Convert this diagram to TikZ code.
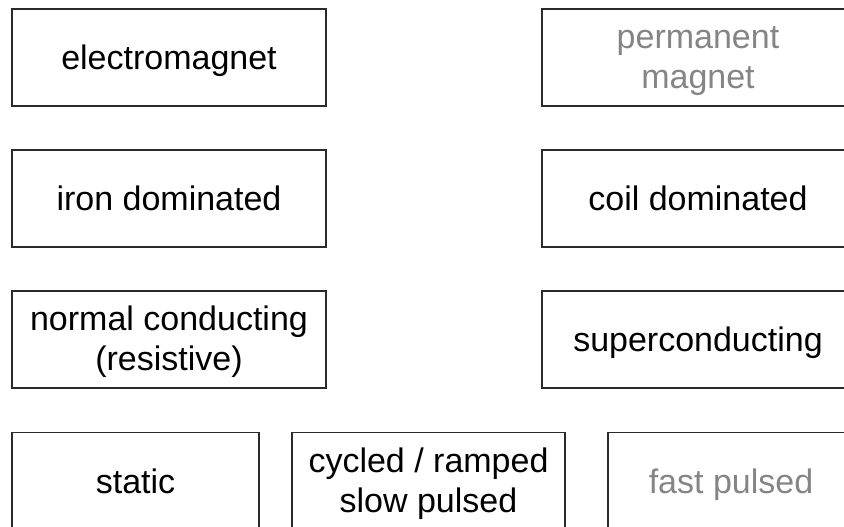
\documentclass[tikz,border=0pt]{standalone}
\usepackage{fontspec}
\setmainfont{Liberation Sans}
\definecolor{boxline}{HTML}{2A2A2A}
\definecolor{dimtext}{HTML}{858585}
\begin{document}
\begin{tikzpicture}[x=1pt,y=-1pt,
  cat/.style={draw=boxline, line width=1.3pt, rectangle, inner sep=0pt,
    align=center, font=\fontsize{34}{40}\selectfont, text=black,
    text height=25pt, text depth=1pt},
  twoline/.style={text height=65pt, text depth=3pt},
  dim/.style={text=dimtext}]
\useasboundingbox (0,0) rectangle (844,527);
\clip (0,0) rectangle (844,527);
% row 1
\node[cat, minimum width=314pt, minimum height=97pt] (em) at (169,57.5) {electromagnet};
\node[cat, dim, twoline, minimum width=312pt, minimum height=97pt] (pm) at (698,57.5) {permanent\\magnet};
% row 2
\node[cat, minimum width=314pt, minimum height=97pt] (iron) at (169,198.5) {iron dominated};
\node[cat, minimum width=312pt, minimum height=97pt] (coil) at (698,198.5) {coil dominated};
% row 3
\node[cat, twoline, minimum width=314pt, minimum height=97pt] (nc) at (169,339.5) {normal conducting\\(resistive)};
\node[cat, minimum width=312pt, minimum height=97pt] (sc) at (698,339.5) {superconducting};
% row 4
\node[cat, minimum width=247pt, minimum height=97pt] (static) at (135.5,481) {static};
\node[cat, twoline, minimum width=273pt, minimum height=97pt] (cyc) at (428.5,481) {cycled / ramped\\slow pulsed};
\node[cat, dim, minimum width=246pt, minimum height=97pt] (fast) at (731,481) {fast pulsed};
\end{tikzpicture}
\end{document}
